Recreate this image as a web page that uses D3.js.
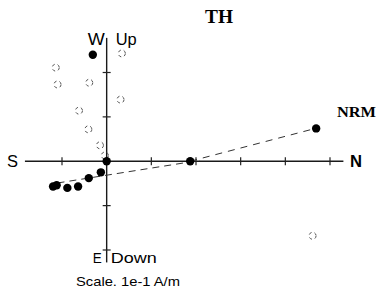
<!DOCTYPE html>
<html>
<head>
<meta charset="utf-8">
<script src="https://cdn.jsdelivr.net/npm/d3@7"></script>
<style>
  body { margin: 0; background: #fff; }
  svg { display: block; }
</style>
</head>
<body>
<svg id="chart" width="380" height="305"></svg>
<script>
// horizontal projection (solid): north, east  (A/m)
const horN = [0.469, 0.187, 0.000, -0.013, -0.040, -0.064, -0.088, -0.112, -0.120, -0.031];
const horE = [-0.074, 0.000, 0.000, 0.025, 0.038, 0.057, 0.060, 0.054, 0.057, -0.240];
// vertical projection (open): north, up  (A/m)
const verN = [0.461, 0.031, 0.034, -0.039, -0.062, -0.041, -0.015, -0.004, -0.114, -0.110];
const verUp = [-0.168, 0.139, 0.243, 0.177, 0.114, 0.072, 0.036, 0.013, 0.211, 0.173];
// dashed fit lines (horizontal plane)
const fitAN = [-0.110, 0.209], fitAE = [0.049, -0.002];
const fitBN = [0.187, 0.475], fitBE = [0.000, -0.076];
// axis ticks, in A/m
const nTicks = [-0.1, 0.1, 0.2, 0.3, 0.4, 0.5];
const vTicks = [0.2, 0.1, -0.1, -0.2];
const nExtent = [-0.183, 0.530];
const vExtent = [0.278, -0.228];

const svg = d3.select("#chart");
const x = d3.scaleLinear().domain([-0.1, 0.5]).range([62, 330]);
const y = d3.scaleLinear().domain([0.2, -0.2]).range([72.5, 250]);
const x0 = x(0), y0 = y(0);

const g = svg.append("g");

// axes
g.append("line")
  .attr("x1", x(nExtent[0])).attr("x2", x(nExtent[1]))
  .attr("y1", y0).attr("y2", y0)
  .attr("stroke", "#1a1a1a").attr("stroke-width", 1.6);
g.append("line")
  .attr("x1", x0).attr("x2", x0)
  .attr("y1", y(vExtent[0])).attr("y2", y(vExtent[1]))
  .attr("stroke", "#1a1a1a").attr("stroke-width", 1.4);

g.selectAll(".ntick").data(nTicks).enter().append("line")
  .attr("x1", (d) => x(d)).attr("x2", (d) => x(d))
  .attr("y1", y0 - 4).attr("y2", y0 + 4)
  .attr("stroke", "#222").attr("stroke-width", 1.2);
g.selectAll(".vtick").data(vTicks).enter().append("line")
  .attr("x1", x0 - 4).attr("x2", x0 + 4)
  .attr("y1", (d) => y(d)).attr("y2", (d) => y(d))
  .attr("stroke", "#222").attr("stroke-width", 1.2);

// fit lines
const line = d3.line().x((d) => x(d[0])).y((d) => y(-d[1]));
g.append("path")
  .attr("d", line(d3.zip(fitAN, fitAE)))
  .attr("fill", "none").attr("stroke", "#333")
  .attr("stroke-width", 1).attr("stroke-dasharray", "7,5");
g.append("path")
  .attr("d", line(d3.zip(fitBN, fitBE)))
  .attr("fill", "none").attr("stroke", "#333")
  .attr("stroke-width", 1).attr("stroke-dasharray", "7,6");

// open points (vertical plane)
g.selectAll(".open").data(d3.zip(verN, verUp)).enter().append("circle")
  .attr("cx", (d) => x(d[0])).attr("cy", (d) => y(d[1]))
  .attr("r", 3.5)
  .attr("fill", "none").attr("stroke", "#555")
  .attr("stroke-width", 1).attr("stroke-dasharray", "3,3");

// solid points (horizontal plane)
g.selectAll(".solid").data(d3.zip(horN, horE)).enter().append("circle")
  .attr("cx", (d) => x(d[0])).attr("cy", (d) => y(-d[1]))
  .attr("r", 4.2)
  .attr("fill", "#000");

// labels
const sans = "'Liberation Sans', Arial, sans-serif";
const serif = "'Liberation Serif', 'Times New Roman', serif";
function label(t, px, py, size, font, weight, len) {
  const el = svg.append("text")
    .attr("x", px).attr("y", py)
    .attr("font-family", font).attr("font-size", size)
    .attr("font-weight", weight).attr("fill", "#000")
    .text(t);
  if (len) el.attr("textLength", len).attr("lengthAdjust", "spacingAndGlyphs");
  return el;
}
label("TH", 205, 23, 19, serif, "bold", 28);
label("NRM", 337, 117, 14.5, serif, "bold", 39);
label("S", 7, 167, 16, sans, "normal", 11);
label("N", 350, 167, 17, sans, "bold", 12);
label("W", x0 - 19, 45, 17, sans, "normal", 17);
label("Up", x0 + 9, 45, 17, sans, "normal", 21);
label("E", x0 - 14, 263, 14, sans, "normal", 9);
label("Down", x0 + 4, 263, 15, sans, "normal", 46);
label("Scale. 1e-1 A/m", 76, 286, 13, sans, "normal", 104);
</script>
</body>
</html>
